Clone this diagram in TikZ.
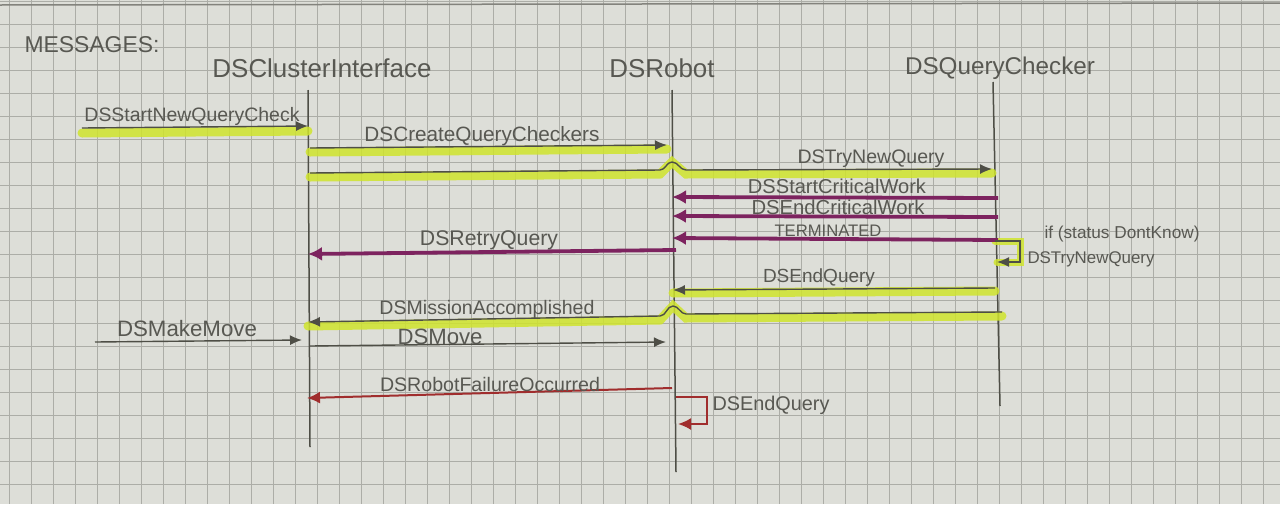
\documentclass[tikz,border=0pt]{standalone}
\usepackage{fontspec}
\setmainfont{Liberation Sans}
\usetikzlibrary{arrows.meta}
\definecolor{paper}{RGB}{221,222,216}
\definecolor{gridc}{RGB}{172,173,167}
\definecolor{pencil}{RGB}{78,78,70}
\definecolor{hilite}{RGB}{208,228,45}
\definecolor{purp}{RGB}{125,35,95}
\definecolor{redm}{RGB}{160,45,45}
\definecolor{ink}{RGB}{88,88,82}
\newcommand\fitto[2]{\resizebox{#1pt}{!}{#2}}
\begin{document}
\begin{tikzpicture}[x=1pt,y=-1pt,
  lifeline/.style={draw=pencil, line width=1.5},
  hl/.style={draw=hilite, line width=9, line cap=round, opacity=0.85},
  pmsg/.style={draw=pencil, line width=1.4, -{Latex[length=12,width=10]}},
  pumsg/.style={draw=purp, line width=3.8, -{Latex[length=14,width=14]}},
  rmsg/.style={draw=redm, line width=2, -{Latex[length=13,width=12]}},
  lbl/.style={text=ink, inner sep=0},
  head/.style={text=ink, inner sep=0}]
\useasboundingbox (0,0) rectangle (1280,504);
\fill[paper] (0,0) rectangle (1280,504);
% grid paper
\foreach \gx in {9,31,...,1280} \draw[gridc, line width=0.6] (\gx,0) -- (\gx,504);
\foreach \gy in {1,24,...,504} \draw[gridc, line width=0.6] (0,\gy) -- (1280,\gy);
\draw[pencil!70, line width=1.5] (0,5) -- (1280,3);

% headers
\node[head] (msgs) at (92,45) {\fitto{135}{MESSAGES:}};
\node[head] (hCI) at (322,68) {\fitto{219}{DSClusterInterface}};
\node[head] (hR) at (662,68) {\fitto{105}{DSRobot}};
\node[head] (hQC) at (1000,68) {\fitto{190}{DSQueryChecker}};

% lifeline ends
\coordinate (ciT) at (308,90);  \coordinate (ciB) at (310,447);
\coordinate (rT) at (672,90);   \coordinate (rB) at (676,472);
\coordinate (qT) at (993,82);   \coordinate (qB) at (1000,406);
\draw[lifeline] (ciT) -- (ciB);
\draw[lifeline] (rT) -- (rB);
\draw[lifeline] (qT) -- (qB);

% message end points
\coordinate (m1a) at (82,128);  \coordinate (m1b) at (308,126);
\coordinate (m2a) at (310,148); \coordinate (m2b) at (667,145);
\coordinate (m3a) at (310,173); \coordinate (m3h1) at (660,170);
\coordinate (m3h2) at (672,162); \coordinate (m3h3) at (686,170);
\coordinate (m3b) at (992,169);
\coordinate (m4a) at (998,198); \coordinate (m4b) at (672,197);
\coordinate (m5a) at (998,217); \coordinate (m5b) at (672,216);
\coordinate (m6a) at (998,240); \coordinate (m6b) at (672,238);
\coordinate (l1a) at (995,241); \coordinate (l1b) at (1020,241);
\coordinate (l1c) at (1020,262); \coordinate (l1d) at (997,262);
\coordinate (m7a) at (676,250); \coordinate (m7b) at (308,254);
\coordinate (m8a) at (995,288); \coordinate (m8b) at (673,290);
\coordinate (m9a) at (1002,312); \coordinate (m9h1) at (686,314);
\coordinate (m9h2) at (673,306); \coordinate (m9h3) at (660,316);
\coordinate (m9b) at (308,322);
\coordinate (m10a) at (95,342); \coordinate (m10b) at (302,340);
\coordinate (m11a) at (310,346); \coordinate (m11b) at (666,342);
\coordinate (m12a) at (672,388); \coordinate (m12b) at (307,398);
\coordinate (l2a) at (676,397); \coordinate (l2b) at (707,397);
\coordinate (l2c) at (707,424); \coordinate (l2d) at (678,424);

% yellow highlights
\draw[hl] ([yshift=-5]m1a) -- ([yshift=-5]m1b);
\draw[hl] ([yshift=-4]m2a) -- ([yshift=-4]m2b);
\draw[hl] ([yshift=-4]m3a) -- ([yshift=-4]m3h1) -- (m3h2) -- ([yshift=-4]m3h3) -- ([yshift=-4]m3b);
\draw[hl, line width=7] (l1a) -- (l1b) -- (l1c) -- (l1d);
\draw[hl] ([yshift=-3]m8a) -- ([yshift=-3]m8b);
\draw[hl] ([yshift=-4]m9a) -- ([yshift=-4]m9h1) -- (m9h2) -- ([yshift=-4]m9h3) -- ([yshift=-4]m9b);

% messages
\draw[pmsg] (m1a) -- (m1b);
\draw[pmsg] (m2a) -- (m2b);
\draw[pmsg] (m3a) -- (m3h1) to[out=0,in=180] (m3h2) to[out=0,in=180] (m3h3) -- (m3b);
\draw[pumsg] (m4a) -- (m4b);
\draw[pumsg] (m5a) -- (m5b);
\draw[pumsg] (m6a) -- (m6b);
\draw[pmsg] (l1a) -- (l1b) -- (l1c) -- (l1d);
\draw[pumsg] (m7a) -- (m7b);
\draw[pmsg] (m8a) -- (m8b);
\draw[pmsg] (m9a) -- (m9h1) to[out=180,in=0] (m9h2) to[out=180,in=0] (m9h3) -- (m9b);
\draw[pmsg] (m10a) -- (m10b);
\draw[pmsg] (m11a) -- (m11b);
\draw[rmsg] (m12a) -- (m12b);
\draw[rmsg] (l2a) -- (l2b) -- (l2c) -- (l2d);

% labels
\node[lbl] (t1) at (192,116) {\fitto{215}{DSStartNewQueryCheck}};
\node[lbl] (t2) at (482,136) {\fitto{235}{DSCreateQueryCheckers}};
\node[lbl] (t3) at (871,159) {\fitto{147}{DSTryNewQuery}};
\node[lbl] (t4) at (837,186) {\fitto{178}{DSStartCriticalWork}};
\node[lbl] (t5) at (838,207) {\fitto{173}{DSEndCriticalWork}};
\node[lbl] (t6) at (828,231) {\fitto{107}{TERMINATED}};
\node[lbl] (t7) at (1122,234) {\fitto{155}{if (status DontKnow)}};
\node[lbl] (t8) at (1091,259) {\fitto{127}{DSTryNewQuery}};
\node[lbl] (t9) at (489,240) {\fitto{138}{DSRetryQuery}};
\node[lbl] (t10) at (819,278) {\fitto{112}{DSEndQuery}};
\node[lbl] (t11) at (487,309) {\fitto{215}{DSMissionAccomplished}};
\node[lbl] (t12) at (187,329) {\fitto{140}{DSMakeMove}};
\node[lbl] (t13) at (440,337) {\fitto{85}{DSMove}};
\node[lbl] (t14) at (490,384) {\fitto{220}{DSRobotFailureOccurred}};
\node[lbl] (t15) at (771,405) {\fitto{117}{DSEndQuery}};
\end{tikzpicture}
\end{document}
